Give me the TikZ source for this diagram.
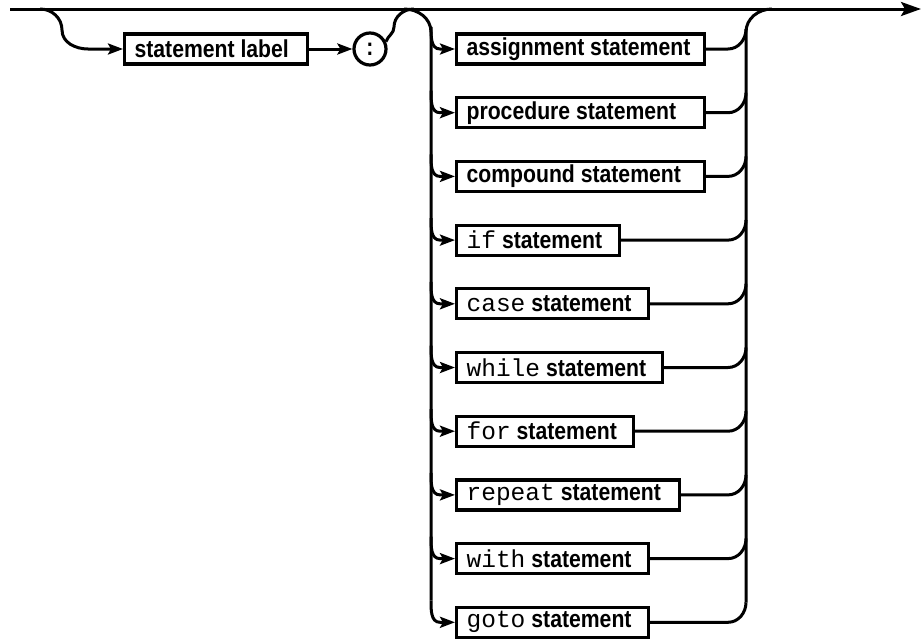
\documentclass[tikz,border=0pt]{standalone}
\usepackage{fontspec}
\setmainfont{Liberation Sans}[FakeStretch=0.865]
\newfontfamily\kwfont{Liberation Mono}
\usetikzlibrary{arrows.meta}
\newcommand\kwd[1]{{\kwfont\mdseries\fontsize{24.5}{24}\selectfont #1}\hspace{6pt}}
\begin{document}
\begin{tikzpicture}[x=1pt,y=-1pt,
  line/.style={line width=3pt},
  arr/.style={-{Stealth[length=15pt,width=11pt,inset=3pt]}},
  bigarr/.style={-{Stealth[length=20pt,width=14pt,inset=4pt]}},
  box/.style={draw, line width=3.2pt, inner xsep=10pt, inner ysep=0pt,
    minimum height=30pt, anchor=west, font=\fontsize{24.5}{26}\selectfont\bfseries},
  ]
\useasboundingbox (0,0) rectangle (923,640);

% main bypass line
\coordinate (start) at (10,9);
\coordinate (finish) at (921,9);
\draw[line,bigarr] (start) -- (finish);

% statement label branch
\node[box] (sl) at (123,49) {\makebox[163pt][l]{statement label}};
\node[draw, circle, line width=3.2pt, minimum size=32pt, inner sep=0pt,
  font=\fontsize{24.5}{26}\selectfont\bfseries] (colon) at (370,49) {:};
\coordinate (b1) at (40,9);
\coordinate (b2) at (62,30);
\coordinate (b3) at (88,49);
\draw[line,arr] (b1) to[out=0,in=90] (b2) to[out=-90,in=180] (b3) -- (sl.west);
\draw[line,arr] (sl.east) -- (colon.west);
\coordinate (c1) at (394,27);
\coordinate (c2) at (414,9);
\draw[line] (colon.25) to[out=70,in=-90] (c1) to[out=90,in=180] (c2);

% alternatives
\foreach \i/\w/\lab in {
  1/228/{assignment statement},
  2/228/{procedure statement},
  3/228/{compound statement},
  4/143/{\kwd{if}statement},
  5/172/{\kwd{case}statement},
  6/186/{\kwd{while}statement},
  7/157/{\kwd{for}statement},
  8/203/{\kwd{repeat}statement},
  9/172/{\kwd{with}statement},
  10/172/{\kwd{goto}statement}}{
  \pgfmathsetmacro\yy{49+63.7*(\i-1)}
  \node[box] (r\i) at (455,\yy) {\makebox[\w pt][l]{\lab}};
  \coordinate (la\i) at (431,{\yy-22});
  \coordinate (lb\i) at (440,\yy);
  \coordinate (ra\i) at (728,\yy);
  \coordinate (rb\i) at (746,{\yy-20});
  \draw[line,arr] (la\i) to[out=-90,in=180] (lb\i) -- (r\i.west);
  \draw[line] (r\i.east) -- (ra\i) to[out=0,in=-90] (rb\i);
}

% left bar
\coordinate (l0) at (404,9);
\coordinate (l1) at (431,32);
\draw[line] (l0) to[out=0,in=90] (l1) -- (la10);
% right bar
\coordinate (q1) at (746,32);
\coordinate (q0) at (772,9);
\draw[line] (rb10) -- (q1) to[out=90,in=180] (q0);
\end{tikzpicture}
\end{document}
